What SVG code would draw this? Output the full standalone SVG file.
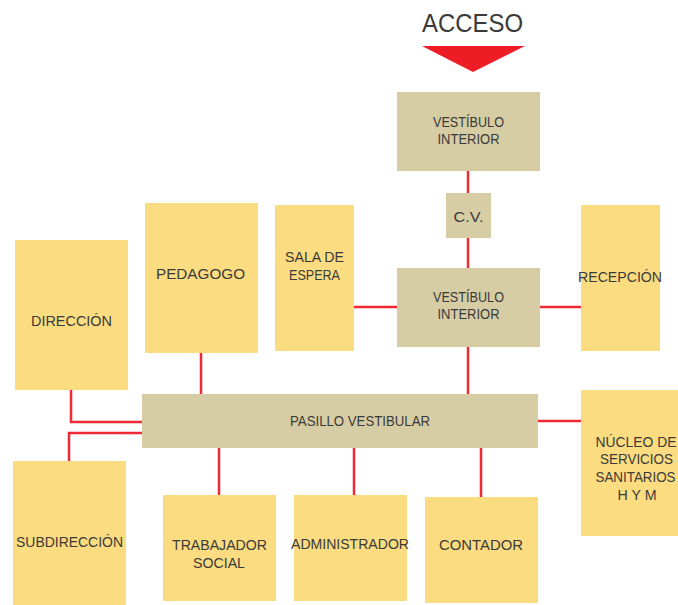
<svg xmlns="http://www.w3.org/2000/svg" width="678" height="605" viewBox="0 0 678 605">
<style>
.y{fill:#fcdc80}
.t{fill:#d6cda5}
text{font-family:"Liberation Sans",Arial,sans-serif;font-size:14px;fill:#3a3a3a;text-anchor:middle}
.c{fill:none;stroke:#ee2a35;stroke-width:2.5}
</style>
<rect width="678" height="605" fill="#ffffff"/>
<g id="connectors">
<path class="c" d="M468 170V193M468 238V268M468 347V394M354 307H397M540 307H581M201 353V394M71 390V422H142M142 433H69V461M538 421H581M219 448V495M354 448V495M481 448V497"/>
</g>
<g id="acceso">
<text x="472.5" y="32" style="font-size:26px" textLength="101" lengthAdjust="spacingAndGlyphs">ACCESO</text>
<polygon points="422,46 525,46 473,72" fill="#ee1c25"/>
</g>
<g id="vestibulo1"><rect class="t" x="397" y="92" width="143" height="79"/><text x="468.5" y="127" textLength="71" lengthAdjust="spacingAndGlyphs">VESTÍBULO</text><text x="468.5" y="144" textLength="62" lengthAdjust="spacingAndGlyphs">INTERIOR</text></g>
<g id="cv"><rect class="t" x="446" y="193" width="45" height="45"/><text x="468.5" y="222" textLength="30" lengthAdjust="spacingAndGlyphs">C.V.</text></g>
<g id="vestibulo2"><rect class="t" x="397" y="268" width="143" height="79"/><text x="468.5" y="302" textLength="71" lengthAdjust="spacingAndGlyphs">VESTÍBULO</text><text x="468.5" y="319" textLength="62" lengthAdjust="spacingAndGlyphs">INTERIOR</text></g>
<g id="pedagogo"><rect class="y" x="145" y="203" width="113" height="150"/><text x="200.5" y="279" textLength="89" lengthAdjust="spacingAndGlyphs">PEDAGOGO</text></g>
<g id="sala"><rect class="y" x="275" y="205" width="79" height="146"/><text x="314.5" y="262" textLength="59" lengthAdjust="spacingAndGlyphs">SALA DE</text><text x="314.5" y="280" textLength="51" lengthAdjust="spacingAndGlyphs">ESPERA</text></g>
<g id="recepcion"><rect class="y" x="581" y="205" width="79" height="146"/><text x="620" y="282" textLength="84" lengthAdjust="spacingAndGlyphs">RECEPCIÓN</text></g>
<g id="direccion"><rect class="y" x="15" y="240" width="113" height="150"/><text x="71.5" y="326" textLength="81" lengthAdjust="spacingAndGlyphs">DIRECCIÓN</text></g>
<g id="pasillo"><rect class="t" x="142" y="394" width="396" height="54"/><text x="360" y="426" textLength="140" lengthAdjust="spacingAndGlyphs">PASILLO VESTIBULAR</text></g>
<g id="nucleo"><rect class="y" x="581" y="390" width="97" height="146"/><text x="636" y="447" textLength="81" lengthAdjust="spacingAndGlyphs">NÚCLEO DE</text><text x="636.5" y="464" textLength="73" lengthAdjust="spacingAndGlyphs">SERVICIOS</text><text x="635.5" y="482" textLength="80" lengthAdjust="spacingAndGlyphs">SANITARIOS</text><text x="637" y="500" textLength="39" lengthAdjust="spacingAndGlyphs">H Y M</text></g>
<g id="subdireccion"><rect class="y" x="13" y="461" width="113" height="144"/><text x="69.5" y="547" textLength="107" lengthAdjust="spacingAndGlyphs">SUBDIRECCIÓN</text></g>
<g id="trabajador"><rect class="y" x="163" y="495" width="113" height="106"/><text x="219.5" y="550" textLength="95" lengthAdjust="spacingAndGlyphs">TRABAJADOR</text><text x="219" y="568" textLength="52" lengthAdjust="spacingAndGlyphs">SOCIAL</text></g>
<g id="administrador"><rect class="y" x="294" y="495" width="113" height="106"/><text x="350" y="549" textLength="118" lengthAdjust="spacingAndGlyphs">ADMINISTRADOR</text></g>
<g id="contador"><rect class="y" x="425" y="497" width="113" height="106"/><text x="481" y="550" textLength="84" lengthAdjust="spacingAndGlyphs">CONTADOR</text></g>
</svg>
